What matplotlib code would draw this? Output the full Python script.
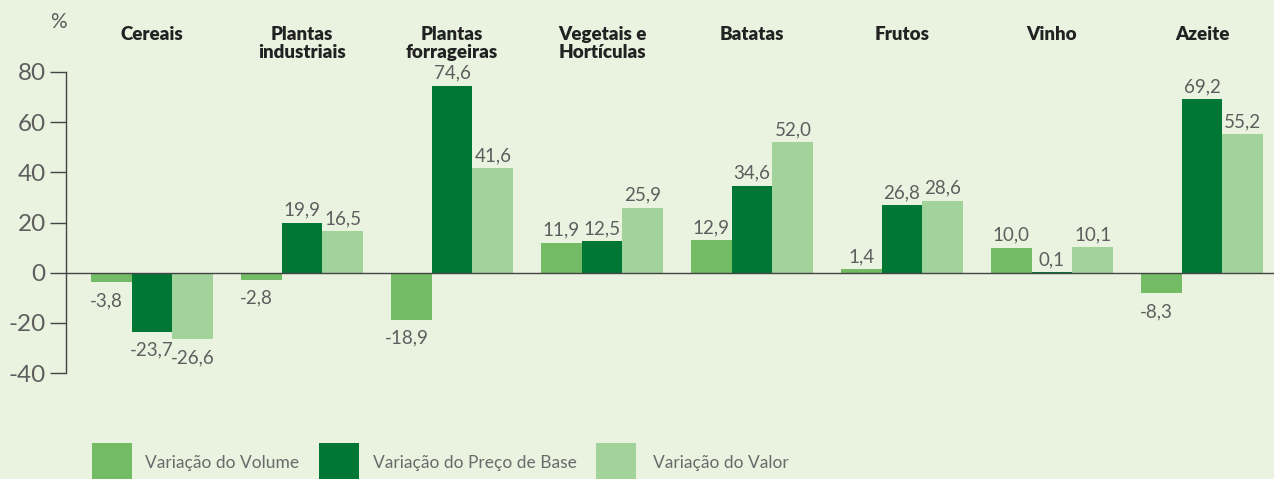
import matplotlib
matplotlib.use("Agg")
import numpy as np
import matplotlib.pyplot as plt
from matplotlib.patches import Rectangle

# data
categories = ["Cereais", "Plantas\nindustriais", "Plantas\nforrageiras", "Vegetais e\nHortículas",
              "Batatas", "Frutos", "Vinho", "Azeite"]
volume = [-3.8, -2.8, -18.9, 11.9, 12.9, 1.4, 10.0, -8.3]
preco_base = [-23.7, 19.9, 74.6, 12.5, 34.6, 26.8, 0.1, 69.2]
valor = [-26.6, 16.5, 41.6, 25.9, 52.0, 28.6, 10.1, 55.2]
series_names = ["Variação do Volume", "Variação do Preço de Base", "Variação do Valor"]
series_colors = ["#73BB65", "#007734", "#A2D39B"]
yticks = [-40, -20, 0, 20, 40, 60, 80]

BG = "#EAF3E0"
W, H = 1274, 479
FAM = ["Lato", "DejaVu Sans"]
GREY = "#5e5e5e"

fig = plt.figure(figsize=(W / 100, H / 100), dpi=100, facecolor=BG)
ax = fig.add_axes([66 / W, 1 - 373 / H, 1 - 66 / W, (373 - 72) / H])
ax.set_facecolor(BG)

num_font = dict(family=FAM, fontweight="normal", color=GREY)

x = np.arange(len(categories))
bw = 0.273
for k, (vals, col) in enumerate(zip([volume, preco_base, valor], series_colors)):
    xs = x + (k - 1) * bw
    ax.bar(xs, vals, width=bw, color=col, zorder=2)
    for xi, v in zip(xs, vals):
        lab = ("%.1f" % v).replace(".", ",")
        if v >= 0:
            ax.annotate(lab, (xi, v), xytext=(0, 3), textcoords="offset points",
                        ha="center", va="bottom", fontsize=13.5, annotation_clip=False, **num_font)
        else:
            ax.annotate(lab, (xi - 0.03 if k == 0 else xi, v), xytext=(0, -7),
                        textcoords="offset points",
                        ha="center", va="top", fontsize=13.5, annotation_clip=False, **num_font)

ax.set_xlim((66 - 152) / 150, (W - 152) / 150)
ax.set_ylim(-40, 80)
ax.set_yticks(yticks)
ax.set_yticklabels([str(t) for t in yticks])
ax.set_xticks([])
for s in ["top", "right", "bottom"]:
    ax.spines[s].set_visible(False)
ax.spines["left"].set_color("#444444")
ax.spines["left"].set_linewidth(1.0)
ax.tick_params(axis="y", direction="out", length=11.5, width=1.0, color="#444444", pad=3,
               labelsize=17.5, labelcolor=GREY)
for t in ax.get_yticklabels():
    t.set_family(FAM)
    t.set_fontweight("normal")
ax.axhline(0, color="#444444", lw=1.0, zorder=3)

# category titles
title_y = 1 + 46 / (373 - 72)
for xi, cat in zip(x, categories):
    ax.text(xi, title_y, cat, transform=ax.get_xaxis_transform(), ha="center", va="top",
            fontsize=13.5, fontweight="heavy", color="#222222", linespacing=1.1,
            family=FAM, clip_on=False)
fig.text(58 / W, 1 - 22 / H, "%", ha="center", va="center", fontsize=15, color=GREY,
         family=FAM, fontweight="normal")

# legend
sq_x = [92, 319, 596]
tx_x = [145, 373, 653]
for sx, tx, name, col in zip(sq_x, tx_x, series_names, series_colors):
    fig.add_artist(Rectangle((sx / W, 0), 40 / W, 36 / H, transform=fig.transFigure,
                             color=col, lw=0))
    fig.text(tx / W, 1 - 463 / H, name, ha="left", va="center", fontsize=12.5,
             color="#6a6a6a", family=FAM, fontweight="normal")

fig.savefig("out.png", dpi=100, facecolor=BG)
